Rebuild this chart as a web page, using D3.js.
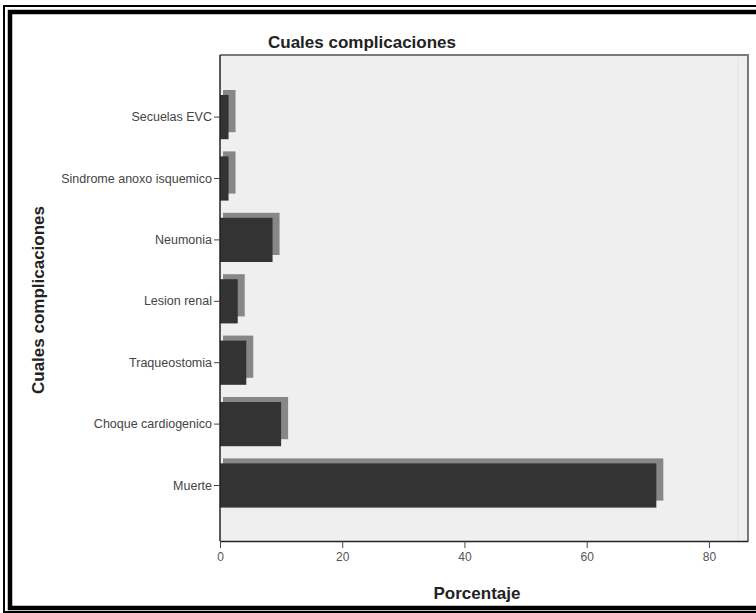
<!DOCTYPE html>
<html>
<head>
<meta charset="utf-8">
<script src="https://cdn.jsdelivr.net/npm/d3@7"></script>
<style>
  html, body { margin: 0; padding: 0; background: #ffffff; }
  svg { display: block; }
  text { font-family: "Liberation Sans", Arial, sans-serif; }
</style>
</head>
<body>
<svg id="chart" width="756" height="613"></svg>
<script>
// Complicaciones (porcentaje de pacientes)
const categories = [
  "Secuelas EVC",
  "Sindrome anoxo isquemico",
  "Neumonia",
  "Lesion renal",
  "Traqueostomia",
  "Choque cardiogenico",
  "Muerte"
];
const percentages = [1.4, 1.4, 8.6, 2.9, 4.3, 10.0, 71.4];
const xTickValues = [0, 20, 40, 60, 80];

const chartTitle = "Cuales complicaciones";
const xTitle = "Porcentaje";
const yTitle = "Cuales complicaciones";

const data = categories.map((c, i) => ({ category: c, value: percentages[i] }));

const svg = d3.select("#chart");
const W = 756, H = 613;

// Double frame around the whole chart
svg.append("rect")
  .attr("x", 4).attr("y", 6).attr("width", W + 20).attr("height", 606)
  .attr("fill", "none").attr("stroke", "#000").attr("stroke-width", 2);
svg.append("rect")
  .attr("x", 10).attr("y", 12).attr("width", W + 20).attr("height", 596)
  .attr("fill", "none").attr("stroke", "#000").attr("stroke-width", 4.5);

// Plot area
const plot = { left: 220, top: 55, right: 748, bottom: 541 };

const x = d3.scaleLinear().domain([0, 86.4]).range([plot.left, plot.right]);
const y = d3.scaleBand().domain(categories).range([86.4, 516.2]).paddingInner(0.28).paddingOuter(0.14);

svg.append("rect")
  .attr("x", plot.left).attr("y", plot.top)
  .attr("width", plot.right - plot.left).attr("height", plot.bottom - plot.top)
  .attr("fill", "#efefef");

// faint inner line near the right edge
svg.append("line")
  .attr("x1", plot.right - 10).attr("x2", plot.right - 10)
  .attr("y1", plot.top + 2).attr("y2", plot.bottom)
  .attr("stroke", "#e2e2e2").attr("stroke-width", 1);

// top and right borders
svg.append("path")
  .attr("d", `M${plot.left},${plot.top}H${plot.right}V${plot.bottom}`)
  .attr("fill", "none").attr("stroke", "#7a7a7a").attr("stroke-width", 2);

// Bars: shadow behind, dark bar in front
const bars = svg.append("g");
const dx = 7, dy = -5;
bars.selectAll("rect.shadow")
  .data(data)
  .join("rect")
  .attr("class", "shadow")
  .attr("x", x(0) + 3)
  .attr("y", d => y(d.category) + dy)
  .attr("width", d => x(d.value) - x(0) - 3 + dx)
  .attr("height", y.bandwidth() - 2)
  .attr("fill", "#878787");

bars.selectAll("rect.bar")
  .data(data)
  .join("rect")
  .attr("class", "bar")
  .attr("x", x(0))
  .attr("y", d => y(d.category))
  .attr("width", d => x(d.value) - x(0))
  .attr("height", y.bandwidth())
  .attr("fill", "#333333");

// Axes
const xAxis = d3.axisBottom(x).tickValues(xTickValues).tickSize(7).tickPadding(4).tickSizeOuter(0);
const gx = svg.append("g").attr("transform", `translate(0,${plot.bottom})`).call(xAxis);
gx.select(".domain").attr("stroke", "#222").attr("stroke-width", 1.5);
gx.selectAll(".tick line").attr("stroke", "#444");
gx.selectAll(".tick text")
  .attr("font-size", 12).attr("fill", "#555")
  .attr("font-family", "'Liberation Sans', Arial, sans-serif");

const yAxis = d3.axisLeft(y).tickSize(6).tickPadding(2).tickSizeOuter(0);
const gy = svg.append("g").attr("transform", `translate(${plot.left},0)`).call(yAxis);
gy.select(".domain").attr("d", `M0,${plot.top}V${plot.bottom}`).attr("stroke", "#222").attr("stroke-width", 1.5);
gy.selectAll(".tick line").attr("stroke", "#444");
gy.selectAll(".tick text")
  .attr("font-size", 12.5).attr("fill", "#444")
  .attr("font-family", "'Liberation Sans', Arial, sans-serif");

// Titles
svg.append("text")
  .attr("x", 362).attr("y", 48)
  .attr("text-anchor", "middle")
  .attr("font-size", 17).attr("font-weight", "bold").attr("fill", "#222")
  .text(chartTitle);

svg.append("text")
  .attr("x", 477).attr("y", 599)
  .attr("text-anchor", "middle")
  .attr("font-size", 17).attr("font-weight", "bold").attr("fill", "#222")
  .text(xTitle);

svg.append("text")
  .attr("transform", "translate(44,300) rotate(-90)")
  .attr("text-anchor", "middle")
  .attr("font-size", 17).attr("font-weight", "bold").attr("fill", "#222")
  .text(yTitle);
</script>
</body>
</html>
